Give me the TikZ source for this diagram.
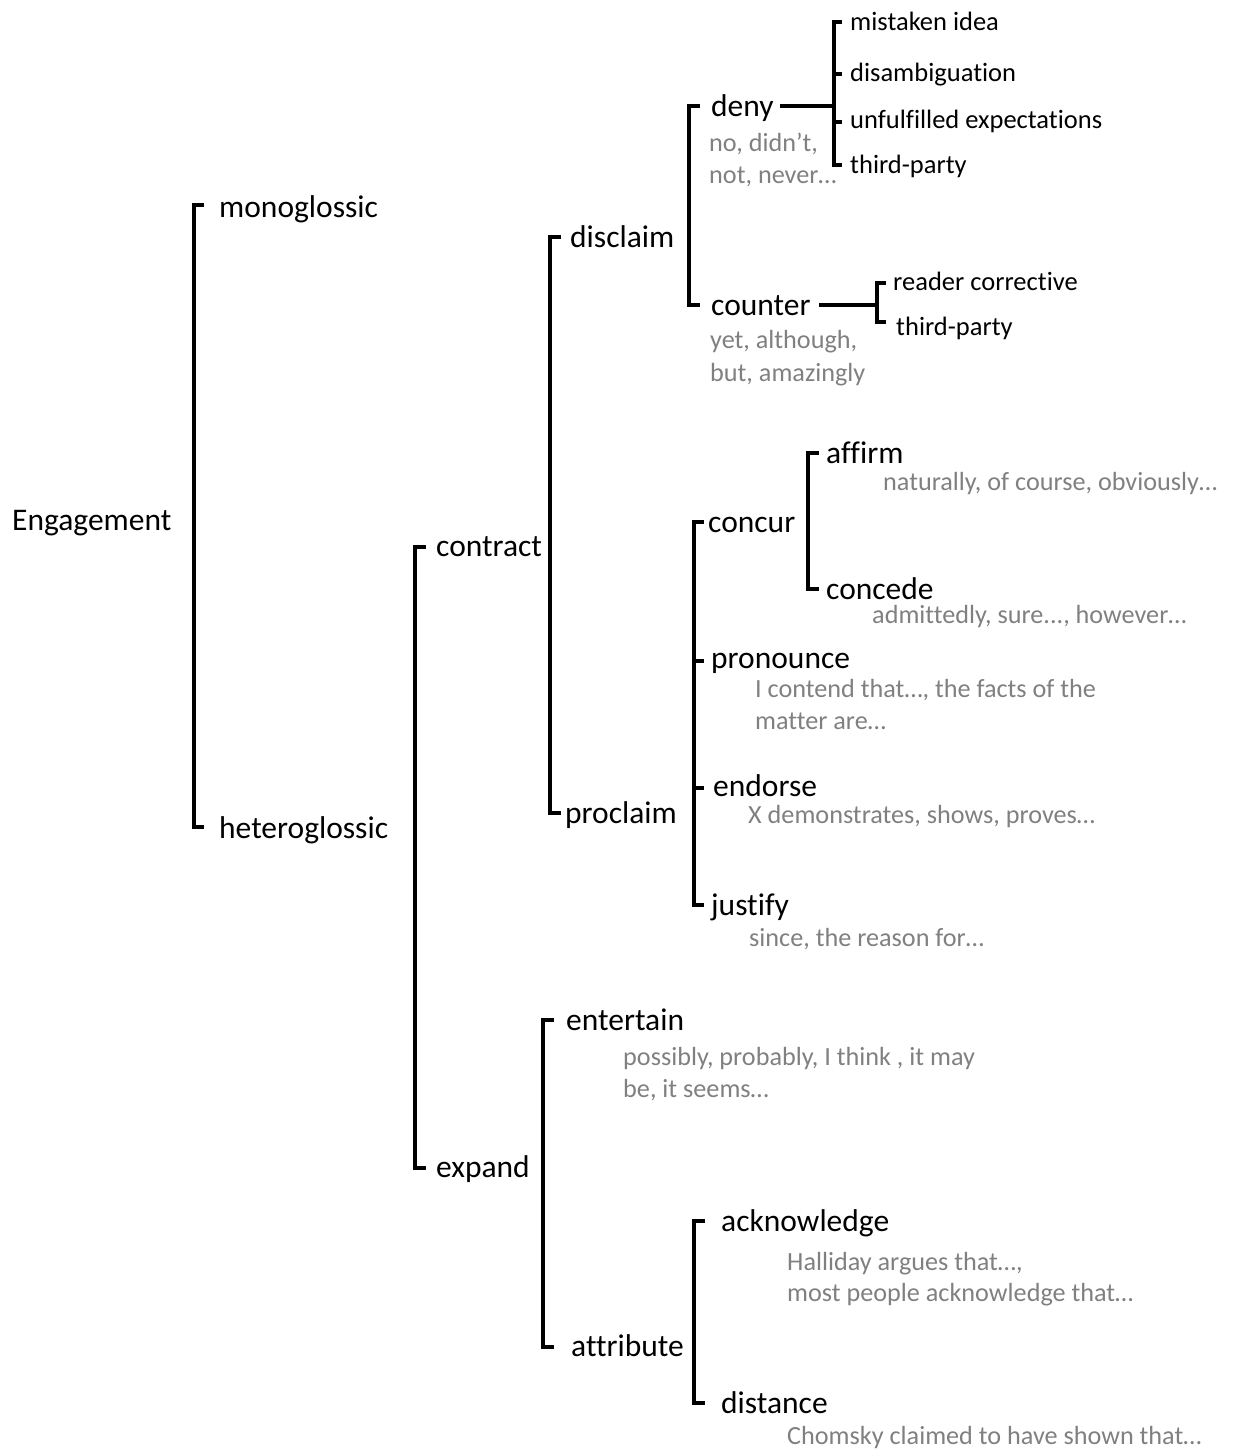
\documentclass[tikz,border=0pt]{standalone}
\usepackage{fontspec}
\setmainfont{Carlito}[Ligatures=NoCommon]
\definecolor{exgrey}{RGB}{128,128,128}
\begin{document}
\begin{tikzpicture}[x=1pt,y=-1pt,
  big/.style={anchor=base west,inner sep=0pt,yshift=-2pt,font=\fontsize{31.5}{38}\selectfont},
  small/.style={anchor=base west,inner sep=0pt,yshift=-2pt,font=\fontsize{26.5}{32}\selectfont},
  ex/.style={anchor=base west,inner sep=0pt,yshift=-2pt,text=exgrey,font=\fontsize{26.2}{32}\selectfont},
  brk/.style={line width=3.8pt,line join=miter}]
\useasboundingbox (0,0) rectangle (1236,1450);
% labels
\node[big] (eng) at (12,528) {Engagement};
\node[big] (mono) at (219,215) {monoglossic};
\node[big] (hetero) at (219,836) {heteroglossic};
\node[big] (contract) at (436,554) {contract};
\node[big] (expand) at (436,1175) {expand};
\node[big] (disclaim) at (570,245) {disclaim};
\node[big] (proclaim) at (565,821) {proclaim};
\node[big] (deny) at (711,115) {deny};
\node[ex] (denyexa) at (709,150) {no, didn’t,};
\node[ex] (denyexb) at (709,182) {not, never…};
\node[big] (counter) at (711,313) {counter};
\node[ex] (counterexa) at (710,346) {yet, although,};
\node[ex] (counterexb) at (710,379) {but, amazingly};
\node[small] (mistaken) at (850,29) {mistaken idea};
\node[small] (disamb) at (850,80) {disambiguation};
\node[small] (unful) at (850,127) {unfulfilled expectations};
\node[small] (thirda) at (850,172) {third-party};
\node[small] (reader) at (893,288) {reader corrective};
\node[small] (thirdb) at (896,333) {third-party};
\node[big] (concur) at (708,530) {concur};
\node[big] (affirm) at (826,461) {affirm};
\node[ex] (affirmex) at (883,488) {naturally, of course, obviously…};
\node[big] (concede) at (826,597) {concede};
\node[ex] (concedeex) at (872,621) {admittedly, sure..., however…};
\node[big] (pronounce) at (711,666) {pronounce};
\node[ex] (pronexa) at (755,695) {I contend that…, the facts of the};
\node[ex] (pronexb) at (755,727) {matter are…};
\node[big] (endorse) at (713,794) {endorse};
\node[ex] (endorseex) at (748,821) {X demonstrates, shows, proves…};
\node[big] (justify) at (711,913) {justify};
\node[ex] (justifyex) at (749,944) {since, the reason for…};
\node[big] (entertain) at (566,1028) {entertain};
\node[ex] (entexa) at (623,1063) {possibly, probably, I think , it may};
\node[ex] (entexb) at (623,1095) {be, it seems…};
\node[big] (attribute) at (571,1354) {attribute};
\node[big] (ackn) at (721,1229) {acknowledge};
\node[ex] (acknexa) at (787,1268) {Halliday argues that…,};
\node[ex] (acknexb) at (787,1299) {most people acknowledge that…};
\node[big] (distance) at (721,1411) {distance};
\node[ex] (distanceex) at (787,1442) {Chomsky claimed to have shown that…};
% brackets
\coordinate (b1t) at (204,205); \coordinate (b1b) at (204,827);
\draw[brk] (b1t) -- (194,205) -- (194,827) -- (b1b);
\coordinate (b2t) at (426,547); \coordinate (b2b) at (426,1168);
\draw[brk] (b2t) -- (415,547) -- (415,1168) -- (b2b);
\coordinate (b3t) at (561,237); \coordinate (b3b) at (561,813);
\draw[brk] (b3t) -- (550,237) -- (550,813) -- (b3b);
\coordinate (b4t) at (700,106); \coordinate (b4b) at (700,305);
\draw[brk] (b4t) -- (689,106) -- (689,305) -- (b4b);
\coordinate (b5t) at (842,22); \coordinate (b5b) at (842,165);
\draw[brk] (b5t) -- (834,22) -- (834,165) -- (b5b);
\coordinate (b5m1) at (842,74); \coordinate (b5m2) at (842,122);
\draw[brk] (834,74) -- (b5m1);
\draw[brk] (834,122) -- (b5m2);
\coordinate (denyr) at (780,106); \coordinate (denyj) at (834,106);
\draw[brk] (denyr) -- (denyj);
\coordinate (counterr) at (819,305); \coordinate (counterj) at (877,305);
\draw[brk] (counterr) -- (counterj);
\coordinate (b10t) at (886,283); \coordinate (b10b) at (886,322);
\draw[brk] (b10t) -- (877,283) -- (877,322) -- (b10b);
\coordinate (b6t) at (704,522); \coordinate (b6b) at (704,905);
\draw[brk] (b6t) -- (694,522) -- (694,905) -- (b6b);
\coordinate (b6m1) at (704,661); \coordinate (b6m2) at (704,788);
\draw[brk] (694,661) -- (b6m1);
\draw[brk] (694,788) -- (b6m2);
\coordinate (b7t) at (819,453); \coordinate (b7b) at (819,589);
\draw[brk] (b7t) -- (808,453) -- (808,589) -- (b7b);
\coordinate (b8t) at (554,1020); \coordinate (b8b) at (554,1347);
\draw[brk] (b8t) -- (543,1020) -- (543,1347) -- (b8b);
\coordinate (b9t) at (705,1221); \coordinate (b9b) at (705,1403);
\draw[brk] (b9t) -- (694,1221) -- (694,1403) -- (b9b);
\end{tikzpicture}
\end{document}
